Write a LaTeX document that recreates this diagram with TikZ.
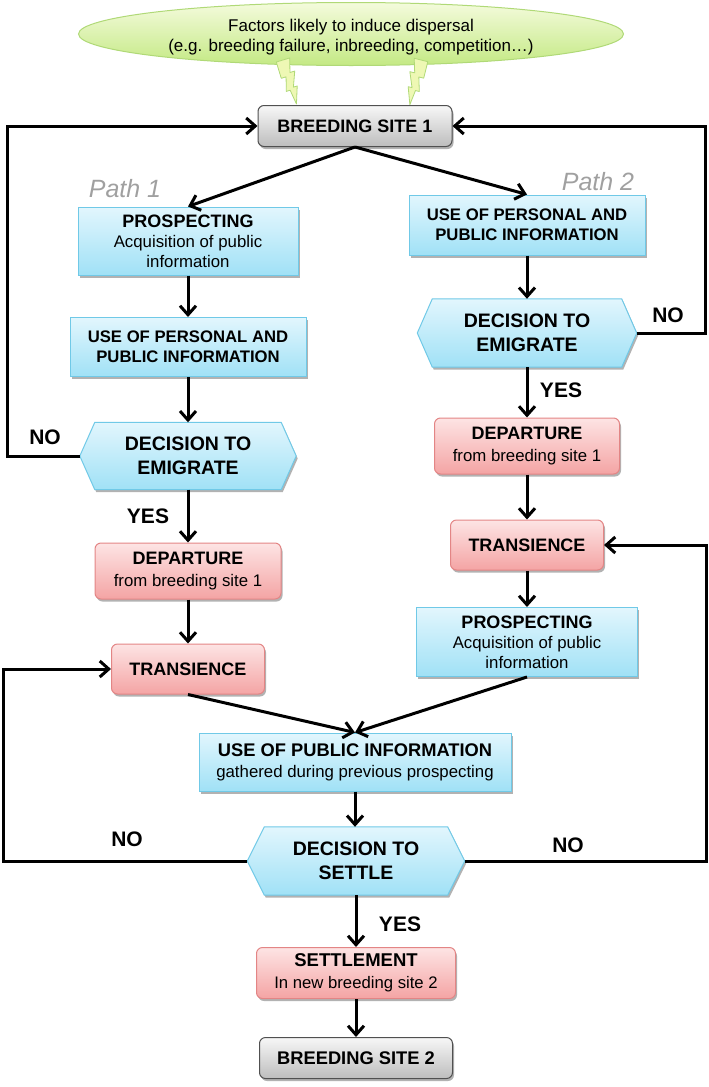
\documentclass[tikz,border=0pt]{standalone}
\usepackage{fontspec}
\setmainfont{Liberation Sans}
\usetikzlibrary{shapes.geometric,arrows.meta,shadows,backgrounds}
\definecolor{bluetop}{HTML}{E2F6FD}
\definecolor{bluebot}{HTML}{A0E1F6}
\definecolor{blueline}{HTML}{70C9E7}
\definecolor{redtop}{HTML}{FDE4E4}
\definecolor{redbot}{HTML}{F4A4A4}
\definecolor{redline}{HTML}{E38585}
\definecolor{graytop}{HTML}{F7F7F7}
\definecolor{graybot}{HTML}{BDBDBD}
\definecolor{grayline}{HTML}{505050}
\definecolor{greentop}{HTML}{F4FBDC}
\definecolor{greenbot}{HTML}{C4E984}
\definecolor{greenline}{HTML}{B0D977}
\definecolor{boltfill}{HTML}{EEF8B4}
\definecolor{pathgray}{HTML}{A0A0A0}
\newcommand\fsz[2]{\fontsize{#1}{#2}\selectfont}
\newcommand\hexbg[2]{%
  \begin{pgfonlayer}{background}
  \path[hexfill] ([xshift=#2pt]#1.north west) -- ([xshift=-#2pt]#1.north east) -- (#1.east)
     -- ([xshift=-#2pt]#1.south east) -- ([xshift=#2pt]#1.south west) -- (#1.west) -- cycle;
  \end{pgfonlayer}}
\begin{document}
\begin{tikzpicture}[x=1pt,y=-1pt,
  shad/.style={drop shadow={shadow xshift=1.5pt,shadow yshift=-2.5pt,opacity=0.3,fill=black}},
  bluebox/.style={rectangle,draw=blueline,line width=1pt,top color=bluetop,bottom color=bluebot,align=center,inner sep=0pt,shad},
  redbox/.style={rectangle,rounded corners=6pt,draw=redline,line width=1pt,top color=redtop,bottom color=redbot,align=center,inner sep=0pt,shad},
  graybox/.style={rectangle,rounded corners=6pt,draw=grayline,line width=1pt,top color=graytop,bottom color=graybot,align=center,inner sep=0pt,shad},
  hexnode/.style={rectangle,inner sep=0pt,align=center,font=\bfseries\fsz{19.5}{24}},
  hexfill/.style={draw=blueline,line width=1pt,top color=bluetop,bottom color=bluebot,shad},
  conn/.style={line width=3pt,-{Straight Barb[length=9pt,width=16pt]}},
  yn/.style={font=\bfseries\fsz{21}{24}},
  pathlbl/.style={font=\itshape\fsz{25}{28},text=pathgray},
  boltstyle/.style={fill=boltfill,draw=greenline,line width=0.8pt,line join=round}
]
\useasboundingbox (0,0) rectangle (709,1087);

% top ellipse
\node[ellipse,draw=greenline,line width=1pt,top color=greentop,bottom color=greenbot,
      minimum width=545pt,minimum height=63pt,inner sep=0pt] (ell) at (351,34) {};
\node[align=center,font=\fsz{17}{20}] (elltext) at (351,37) {Factors likely to induce dispersal\\(e.g. breeding failure, inbreeding, competition…)};
\begin{scope}[shift={(283,60)},rotate=17]
  \filldraw[boltstyle] (-7,0) -- (7,0) -- (3,14) -- (8,14) -- (2,29) -- (6,29) -- (0,46)
     -- (-2,31) -- (-6,31) -- (-2,17) -- (-7,17) -- cycle;
\end{scope}
\begin{scope}[shift={(421,60)},rotate=-14,xscale=-1]
  \filldraw[boltstyle] (-7,0) -- (7,0) -- (3,14) -- (8,14) -- (2,29) -- (6,29) -- (0,46)
     -- (-2,31) -- (-6,31) -- (-2,17) -- (-7,17) -- cycle;
\end{scope}

\node[graybox,minimum width=194pt,minimum height=41pt,font=\bfseries\fsz{18}{21}] (bs1) at (355,126) {BREEDING SITE 1};

\node[pathlbl] (path1) at (125,189) {Path 1};
\node[pathlbl] (path2) at (598,182) {Path 2};

% left column
\node[bluebox,minimum width=220pt,minimum height=68pt,font=\fsz{16.8}{20}] (p1) at (188,241)
  {{\bfseries\fsz{18}{20}PROSPECTING}\\Acquisition of public\\information};
\node[bluebox,minimum width=236pt,minimum height=59pt,font=\bfseries\fsz{16.7}{20}] (u1) at (188,347)
  {USE OF PERSONAL AND\\PUBLIC INFORMATION};
\node[hexnode,minimum width=216pt,minimum height=67pt] (d1) at (188,456) {DECISION TO\\EMIGRATE};
\hexbg{d1}{15}
\node[redbox,minimum width=186pt,minimum height=56pt,font=\fsz{16.8}{22}] (dep1) at (188,571)
  {{\bfseries\fsz{18}{22}DEPARTURE}\\from breeding site 1};
\node[redbox,minimum width=153pt,minimum height=50pt,font=\bfseries\fsz{18}{21}] (tr1) at (188,669) {TRANSIENCE};

% right column
\node[bluebox,minimum width=236pt,minimum height=60pt,font=\bfseries\fsz{16.7}{20}] (u2) at (527,225)
  {USE OF PERSONAL AND\\PUBLIC INFORMATION};
\node[hexnode,minimum width=219pt,minimum height=68pt] (d2) at (527,333) {DECISION TO\\EMIGRATE};
\hexbg{d2}{15}
\node[redbox,minimum width=185pt,minimum height=56pt,font=\fsz{16.8}{22}] (dep2) at (527,446)
  {{\bfseries\fsz{18}{22}DEPARTURE}\\from breeding site 1};
\node[redbox,minimum width=153pt,minimum height=50pt,font=\bfseries\fsz{18}{21}] (tr2) at (527,545) {TRANSIENCE};
\node[bluebox,minimum width=221pt,minimum height=69pt,font=\fsz{16.8}{20}] (p2) at (527,642)
  {{\bfseries\fsz{18}{20}PROSPECTING}\\Acquisition of public\\information};

% bottom
\node[bluebox,minimum width=312pt,minimum height=58pt,font=\fsz{16.8}{21}] (up) at (355,762)
  {{\bfseries\fsz{18.3}{21}USE OF PUBLIC INFORMATION}\\gathered during previous prospecting};
\node[hexnode,minimum width=217pt,minimum height=68pt] (d3) at (356,861) {DECISION TO\\SETTLE};
\hexbg{d3}{17}
\node[redbox,minimum width=199pt,minimum height=51pt,font=\fsz{16.7}{22}] (set) at (356,973)
  {{\bfseries\fsz{18.5}{22}SETTLEMENT}\\In new breeding site 2};
\node[graybox,minimum width=193pt,minimum height=41pt,font=\bfseries\fsz{18.3}{21}] (bs2) at (356,1058) {BREEDING SITE 2};

% labels
\node[yn] (no1) at (45,437) {NO};
\node[yn] (no2) at (668,315) {NO};
\node[yn] (no3) at (127,839) {NO};
\node[yn] (no4) at (568,845) {NO};
\node[yn] (yes1) at (148,516) {YES};
\node[yn] (yes2) at (561,390) {YES};
\node[yn] (yes3) at (400,924) {YES};

% loop coordinates
\coordinate (lxa) at (7,0);
\coordinate (rxa) at (705,0);
\coordinate (lxb) at (3,0);
\coordinate (rxb) at (706,0);

% connectors
\draw[conn] (bs1.south) -- (p1.north);
\draw[conn] (bs1.south) -- (u2.north);
\draw[conn] (p1.south) -- (u1.north);
\draw[conn] (u1.south) -- (d1.north);
\draw[conn] (d1.south) -- (dep1.north);
\draw[conn] (dep1.south) -- (tr1.north);
\draw[conn] (u2.south) -- (d2.north);
\draw[conn] (d2.south) -- (dep2.north);
\draw[conn] (dep2.south) -- (tr2.north);
\draw[conn] (tr2.south) -- (p2.north);
\draw[conn] (tr1.south) -- (up.north);
\draw[conn] (p2.south) -- (up.north);
\draw[conn] (up.south) -- (up.south |- d3.north);
\draw[conn] (d3.south) -- (set.north);
\draw[conn] (set.south) -- (bs2.north);
\draw[conn] (d1.west) -- (d1.west -| lxa) |- (bs1.west);
\draw[conn] (d2.east) -- (d2.east -| rxa) |- (bs1.east);
\draw[conn] (d3.west) -- (d3.west -| lxb) |- (tr1.west);
\draw[conn] (d3.east) -- (d3.east -| rxb) |- (tr2.east);
\end{tikzpicture}
\end{document}
